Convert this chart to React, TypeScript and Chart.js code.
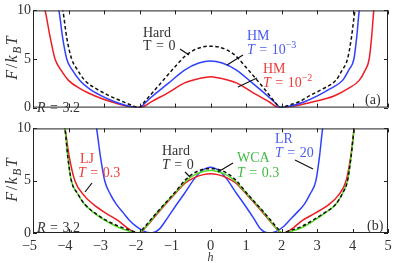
import React, { useEffect, useRef } from 'react';
import { Chart, registerables } from 'chart.js';
Chart.register(...registerables);

const FONT = '"Liberation Serif", "Times New Roman", serif';

const xTickValues = [-5, -4, -3, -2, -1, 0, 1, 2, 3, 4, 5];
const yTickValues = [0, 5, 10];

// ---- Panel (a) ----
const hardA_h = [-4.32, -4.16, -4.05, -3.91, -3.75, -3.54, -3.2, -2.84, -2.56, -2.3, -2.0, -1.9, -1.5, -1.0, -0.7, -0.45, -0.2, 0, 0.2, 0.45, 0.7, 1.0, 1.5, 1.85, 1.95, 2.25, 2.5, 2.78, 3.15, 3.53, 3.7, 3.86, 3.97, 4.07, 4.2];
const hardA_F = [12, 10, 7.2, 5, 3.9, 2.8, 1.9, 1.2, 0.75, 0.35, 0, 0.42, 2.1, 4.2, 5.35, 5.95, 6.25, 6.32, 6.25, 5.95, 5.35, 4.15, 2.0, 0.4, 0, 0.3, 0.6, 1.2, 1.9, 2.8, 3.8, 5, 7.2, 10, 12];

const hm3A_h = [-4.45, -4.27, -4.17, -4.05, -3.9, -3.68, -3.4, -3.07, -2.7, -2.35, -2.0, -1.85, -1.67, -1.2, -0.73, -0.33, 0, 0.33, 0.73, 1.2, 1.67, 1.85, 1.97, 2.3, 2.65, 3.01, 3.35, 3.72, 3.9, 4.04, 4.12, 4.19, 4.3];
const hm3A_F = [12, 10, 7.3, 5, 3.9, 2.8, 1.9, 1.2, 0.6, 0.2, 0, 0.45, 1.06, 2.46, 3.86, 4.58, 4.8, 4.58, 3.86, 2.46, 1.0, 0.4, 0, 0.2, 0.6, 1.2, 1.9, 2.8, 3.9, 5, 7.3, 10, 12];

const hm2A_h = [-4.85, -4.66, -4.52, -4.38, -4.2, -4.0, -3.65, -3.25, -2.8, -2.4, -2.05, -1.9, -1.67, -1.2, -0.73, -0.33, 0, 0.33, 0.73, 1.2, 1.67, 1.85, 1.97, 2.4, 2.9, 3.48, 3.85, 4.19, 4.35, 4.47, 4.54, 4.6, 4.7];
const hm2A_F = [12, 10, 7.3, 5, 3.8, 2.8, 1.9, 1.2, 0.6, 0.2, 0, 0.08, 0.59, 1.52, 2.55, 2.98, 3.18, 2.98, 2.55, 1.52, 0.55, 0.1, 0, 0.2, 0.6, 1.2, 1.9, 2.8, 3.8, 5, 7.3, 10, 12];

// ---- Panel (b) ----
const hardB_h = [-4.25, -4.1, -4.02, -3.92, -3.75, -3.54, -3.25, -2.93, -2.55, -2.25, -2.0, -1.9, -1.5, -1.0, -0.7, -0.45, -0.2, 0, 0.2, 0.45, 0.7, 1.0, 1.5, 1.9, 2.0, 2.25, 2.55, 2.87, 3.2, 3.53, 3.72, 3.86, 3.96, 4.05, 4.2];
const hardB_F = [12, 10, 7.3, 5, 3.8, 2.74, 1.9, 1.2, 0.6, 0.25, 0, 0.4, 2.0, 3.9, 5.1, 5.75, 6.1, 6.15, 6.1, 5.75, 5.1, 3.9, 2.0, 0.4, 0, 0.25, 0.6, 1.2, 1.9, 2.74, 3.8, 5, 7.3, 10, 12];

const wcaB_h = [-4.25, -4.1, -4.02, -3.92, -3.75, -3.55, -3.27, -2.95, -2.6, -2.3, -2.05, -1.9, -1.5, -1.0, -0.7, -0.45, -0.2, 0, 0.2, 0.45, 0.7, 1.0, 1.5, 1.9, 2.05, 2.3, 2.6, 2.9, 3.22, 3.53, 3.72, 3.86, 3.96, 4.05, 4.2];
const wcaB_F = [12, 10, 7.3, 5, 3.8, 2.74, 1.9, 1.15, 0.55, 0.18, 0, 0.3, 1.95, 3.85, 4.95, 5.55, 5.88, 5.97, 5.88, 5.55, 4.95, 3.85, 1.95, 0.3, 0, 0.18, 0.55, 1.15, 1.9, 2.74, 3.8, 5, 7.3, 10, 12];

const ljB_h = [-4.25, -4.1, -3.98, -3.82, -3.54, -3.3, -2.95, -2.61, -2.35, -2.15, -2.0, -1.85, -1.5, -1.0, -0.7, -0.45, -0.2, 0, 0.2, 0.45, 0.7, 1.0, 1.5, 1.85, 2.0, 2.15, 2.35, 2.59, 2.95, 3.34, 3.6, 3.82, 3.95, 4.05, 4.2];
const ljB_F = [12, 10, 7.3, 5, 3.5, 2.74, 1.9, 1.2, 0.5, 0.08, 0, 0.45, 1.85, 3.75, 4.8, 5.3, 5.58, 5.66, 5.58, 5.3, 4.8, 3.75, 1.85, 0.45, 0, 0.1, 0.55, 1.2, 1.9, 2.74, 3.6, 5, 7.3, 10, 12];

const lrB_h = [-3.35, -3.21, -3.1, -2.98, -2.82, -2.65, -2.45, -2.28, -2.1, -1.9, -1.66, -1.45, -1.2, -0.95, -0.73, -0.45, -0.24, 0, 0.24, 0.45, 0.73, 0.95, 1.2, 1.42, 1.62, 1.85, 2.05, 2.22, 2.42, 2.64, 2.8, 2.97, 3.07, 3.16, 3.3];
const lrB_F = [12, 10, 7.3, 5, 3.7, 2.74, 1.9, 1.2, 0.65, 0.2, 0, 0.35, 1.5, 2.75, 3.8, 5.2, 5.95, 6.28, 5.95, 5.2, 3.8, 2.75, 1.5, 0.35, 0, 0.15, 0.6, 1.2, 1.9, 2.74, 3.7, 5, 7.3, 10, 12];

const BLACK = '#111111';
const BLUE = '#3040ff';
const RED = '#ee1c24';
const GREEN = '#55dd22';
const T_BLACK = '#333333';
const T_BLUE = '#4a5cf0';
const T_RED = '#f03a3a';
const T_GREEN = '#44bb44';

type Run = { t: string; it?: boolean; sup?: boolean; sub?: boolean; pad?: number };
type Ann = { x: number; y: number; color: string; size: number; runs: Run[] };

const eqT = (italic: boolean, val: string, sup?: string): Run[] => {
  const r: Run[] = [{ t: 'T', it: italic }, { t: '=', pad: 4.5 }, { t: val }];
  if (sup) r.push({ t: sup, sup: true });
  return r;
};

const topAnns: Ann[] = [
  { x: 143, y: 37, color: T_BLACK, size: 14, runs: [{ t: 'Hard' }] },
  { x: 143, y: 50, color: T_BLACK, size: 14, runs: eqT(false, '0') },
  { x: 247, y: 40, color: T_BLUE, size: 14, runs: [{ t: 'HM' }] },
  { x: 247, y: 54, color: T_BLUE, size: 14, runs: eqT(true, '10', '\u22123') },
  { x: 263, y: 73, color: T_RED, size: 14, runs: [{ t: 'HM' }] },
  { x: 263, y: 87, color: T_RED, size: 14, runs: eqT(true, '10', '\u22122') },
  { x: 37, y: 112, color: T_BLACK, size: 14, runs: [{ t: 'R', it: true }, { t: '=', pad: 4.5 }, { t: '3.2' }] },
  { x: 365, y: 104, color: T_BLACK, size: 14, runs: [{ t: '(a)' }] },
];
const topLines = [[180, 49, 189, 55], [243, 55, 227, 65], [257, 78, 238, 87]];

const botAnns: Ann[] = [
  { x: 80, y: 163, color: T_RED, size: 14, runs: [{ t: 'LJ' }] },
  { x: 78, y: 177, color: T_RED, size: 14, runs: eqT(true, '0.3') },
  { x: 162, y: 155, color: T_BLACK, size: 14, runs: [{ t: 'Hard' }] },
  { x: 162, y: 169, color: T_BLACK, size: 14, runs: eqT(true, '0') },
  { x: 237, y: 162, color: T_GREEN, size: 14, runs: [{ t: 'WCA' }] },
  { x: 237, y: 177, color: T_GREEN, size: 14, runs: eqT(true, '0.3') },
  { x: 275, y: 143, color: T_BLUE, size: 14, runs: [{ t: 'LR' }] },
  { x: 275, y: 157, color: T_BLUE, size: 14, runs: eqT(true, '20') },
  { x: 37, y: 232, color: T_BLACK, size: 14, runs: [{ t: 'R', it: true }, { t: '=', pad: 4.5 }, { t: '3.2' }] },
  { x: 367, y: 230, color: T_BLACK, size: 14, runs: [{ t: '(b)' }] },
];
const botLines = [[92, 183, 85, 192], [185, 172, 190, 177], [233, 163, 218, 172], [295, 160, 313, 169]];

function runFont(r: Run, size: number) {
  const s = r.sup || r.sub ? size * 0.72 : size;
  return `${r.it ? 'italic ' : ''}${s}px ${FONT}`;
}
function runsWidth(ctx: CanvasRenderingContext2D, runs: Run[], size: number, gap = 0) {
  let w = 0;
  runs.forEach((r, i) => {
    ctx.font = runFont(r, size);
    w += ctx.measureText(r.t).width + 2 * (r.pad || 0) + (i > 0 ? gap : 0);
  });
  return w;
}
function drawRuns(ctx: CanvasRenderingContext2D, runs: Run[], x: number, y: number, size: number, gap = 0) {
  let cx = x;
  runs.forEach((r, i) => {
    if (i > 0) cx += gap;
    ctx.font = runFont(r, size);
    cx += r.pad || 0;
    const dy = r.sup ? -size * 0.4 : r.sub ? size * 0.25 : 0;
    ctx.fillText(r.t, cx, y + dy);
    cx += ctx.measureText(r.t).width + (r.pad || 0);
  });
}

const yLabelRuns: Run[] = [{ t: 'F', it: true }, { t: '/' }, { t: 'k', it: true }, { t: 'B', it: true, sub: true }, { t: 'T', it: true }];

function makeDecor(offsetY: number, anns: Ann[], lines: number[][], yLabelCenter: number, xTitle: boolean) {
  return {
    id: 'decor' + offsetY,
    afterDraw(chart: any) {
      const ctx: CanvasRenderingContext2D = chart.ctx;
      const a = chart.chartArea;
      const xs = chart.scales.x;
      const ys = chart.scales.y;
      ctx.save();
      ctx.setLineDash([]);
      ctx.strokeStyle = '#222';
      ctx.lineWidth = 1;
      ctx.strokeRect(a.left + 0.5, a.top + 0.5, a.right - a.left - 1, a.bottom - a.top - 1);
      ctx.beginPath();
      const tl = 4;
      xTickValues.forEach((v) => {
        const px = Math.round(xs.getPixelForValue(v)) + 0.5;
        ctx.moveTo(px, a.bottom);
        ctx.lineTo(px, a.bottom - tl);
        ctx.moveTo(px, a.top);
        ctx.lineTo(px, a.top + tl);
      });
      yTickValues.forEach((v) => {
        const py = Math.round(ys.getPixelForValue(v)) + 0.5;
        ctx.moveTo(a.left, py);
        ctx.lineTo(a.left + tl, py);
        ctx.moveTo(a.right, py);
        ctx.lineTo(a.right - tl, py);
      });
      ctx.stroke();

      // pointer lines
      ctx.strokeStyle = '#111';
      ctx.lineWidth = 1.2;
      ctx.beginPath();
      lines.forEach(([x1, y1, x2, y2]) => {
        ctx.moveTo(x1, y1 - offsetY);
        ctx.lineTo(x2, y2 - offsetY);
      });
      ctx.stroke();

      // annotations
      ctx.textAlign = 'left';
      ctx.textBaseline = 'alphabetic';
      anns.forEach((an) => {
        ctx.fillStyle = an.color;
        drawRuns(ctx, an.runs, an.x, an.y - offsetY, an.size);
      });

      // y label
      ctx.fillStyle = '#333';
      ctx.save();
      ctx.translate(16.5, yLabelCenter - offsetY);
      ctx.rotate(-Math.PI / 2);
      const w = runsWidth(ctx, yLabelRuns, 16, 1.5);
      drawRuns(ctx, yLabelRuns, -w / 2, 0, 16, 1.5);
      ctx.restore();

      if (xTitle) {
        ctx.font = `italic 12px ${FONT}`;
        ctx.textAlign = 'center';
        ctx.fillStyle = '#333';
        ctx.fillText('h', xs.getPixelForValue(0), 261 - offsetY);
      }
      ctx.restore();
    },
  };
}

function line(label: string, h: number[], f: number[], color: string, dashed = false) {
  return {
    label,
    data: h.map((x, i) => ({ x, y: f[i] })),
    showLine: true,
    borderColor: color,
    backgroundColor: color,
    borderWidth: 1.5,
    borderDash: dashed ? [3.5, 2.5] : [],
    pointRadius: 0,
    fill: false,
    cubicInterpolationMode: 'monotone',
  };
}

const fmt = (v: number) => (v < 0 ? '\u2212' + Math.abs(v) + '\u2007' : String(v));

function makeConfig(datasets: any[], opts: { padTop: number; padBottom: number; xHeight: number; xLabels: boolean; plugin: any }) {
  return {
    type: 'scatter',
    data: { datasets },
    options: {
      animation: false,
      responsive: false,
      maintainAspectRatio: false,
      devicePixelRatio: 1,
      events: [],
      layout: { padding: { top: opts.padTop, bottom: opts.padBottom, left: 0, right: 11 } },
      plugins: { legend: { display: false }, tooltip: { enabled: false } },
      scales: {
        x: {
          type: 'linear',
          min: -5,
          max: 5,
          afterBuildTicks: (s: any) => {
            s.ticks = xTickValues.map((v) => ({ value: v }));
          },
          ticks: {
            display: opts.xLabels,
            autoSkip: false,
            maxRotation: 0,
            padding: 4,
            color: '#333',
            font: { family: FONT, size: 14.5 },
            callback: (v: any) => fmt(Number(v)),
          },
          grid: { display: false, drawTicks: false },
          border: { display: false },
          afterFit: (s: any) => {
            s.height = opts.xHeight;
          },
        },
        y: {
          type: 'linear',
          min: 0,
          max: 10,
          afterBuildTicks: (s: any) => {
            s.ticks = yTickValues.map((v) => ({ value: v }));
          },
          ticks: {
            padding: 2,
            color: '#333',
            font: { family: FONT, size: 14 },
            callback: (v: any) => fmt(Number(v)),
          },
          grid: { display: false, drawTicks: false },
          border: { display: false },
          afterFit: (s: any) => {
            s.width = 33;
          },
        },
      },
    },
    plugins: [opts.plugin],
  };
}

export default function App() {
  const topRef = useRef<HTMLCanvasElement>(null);
  const botRef = useRef<HTMLCanvasElement>(null);

  useEffect(() => {
    const topChart = new Chart(
      topRef.current as HTMLCanvasElement,
      makeConfig(
        [
          line('Hard T=0', hardA_h, hardA_F, BLACK, true),
          line('HM T=1e-3', hm3A_h, hm3A_F, BLUE),
          line('HM T=1e-2', hm2A_h, hm2A_F, RED),
        ],
        { padTop: 6, padBottom: 5, xHeight: 0, xLabels: false, plugin: makeDecor(0, topAnns, topLines, 58, false) }
      ) as any
    );
    const botChart = new Chart(
      botRef.current as HTMLCanvasElement,
      makeConfig(
        [
          line('Hard T=0', hardB_h, hardB_F, BLACK, true),
          line('WCA T=0.3', wcaB_h, wcaB_F, GREEN),
          line('LJ T=0.3', ljB_h, ljB_F, RED),
          line('LR T=20', lrB_h, lrB_F, BLUE),
        ],
        { padTop: 6.7, padBottom: 0, xHeight: 30, xLabels: true, plugin: makeDecor(118, botAnns, botLines, 180, true) }
      ) as any
    );
    return () => {
      topChart.destroy();
      botChart.destroy();
    };
  }, []);

  return (
    <div style={{ position: 'absolute', left: 0, top: 0, width: 399, height: 263, background: '#fff' }}>
      <canvas ref={topRef} width={399} height={118} style={{ position: 'absolute', left: 0, top: 0, width: 399, height: 118 }} />
      <canvas ref={botRef} width={399} height={145} style={{ position: 'absolute', left: 0, top: 118, width: 399, height: 145 }} />
    </div>
  );
}
